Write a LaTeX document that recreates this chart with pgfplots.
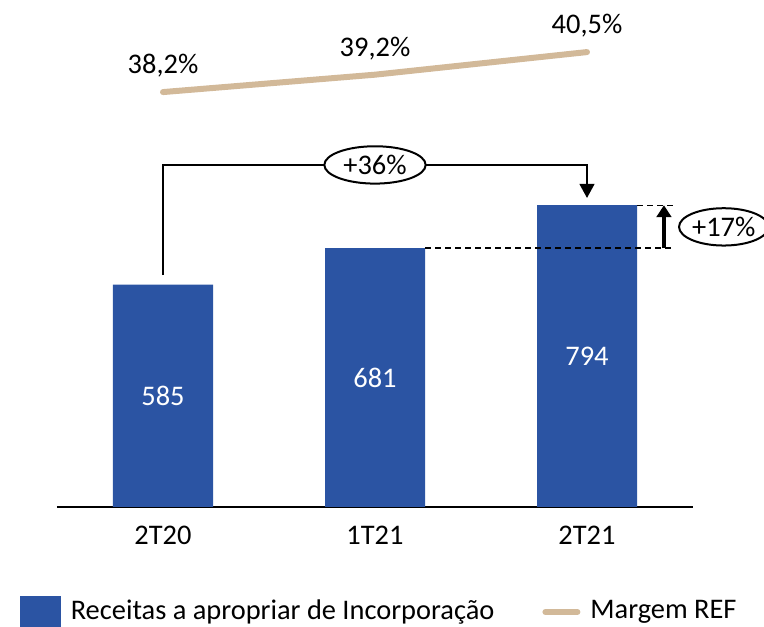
\documentclass[border=0pt]{standalone}
\usepackage{fontspec}
\setmainfont{Carlito}
\usepackage{pgfplots}
\pgfplotsset{compat=1.18}
\usetikzlibrary{arrows.meta,shapes.geometric}
\definecolor{barblue}{HTML}{2B54A3}
\definecolor{tanline}{HTML}{D2B999}

\begin{document}
\fontsize{21.3}{25}\selectfont
\begin{tikzpicture}
\useasboundingbox (-42.75pt,-90pt) rectangle (530.25pt,380.25pt);

% bars
\begin{axis}[
  at={(0pt,0pt)}, anchor=south west,
  scale only axis, width=477pt, height=357.75pt,
  xmin=-0.5, xmax=2.5, ymin=0, ymax=1255,
  axis x line=bottom, axis y line=none,
  x axis line style={-, line width=1.5pt},
  xtick={0,1,2}, xticklabels={2T20,1T21,2T21},
  major tick length=0pt,
  xticklabel style={anchor=center, inner sep=0pt, yshift=-21pt},
  ytick=\empty,
  clip=false,
  /pgf/number format/assume math mode=true,
]
  \addplot[ybar, bar width=75pt, fill=barblue, draw=none,
    visualization depends on={y \as \rawy},
    nodes near coords,
    every node near coord/.style={anchor=center, text=white, inner sep=0pt,
      shift={(axis direction cs:0,-\rawy/2)}}]
    coordinates {(0,585) (1,681) (2,794)};

  % +36% bracket
  \draw[-{Triangle[length=10.5pt,width=11pt]}, line width=1.5pt]
    (axis cs:0,610) |- (axis cs:2,900) -- (axis cs:2,813);
  \node[ellipse, draw, line width=1.5pt, fill=white, inner sep=0pt,
        minimum width=76pt, minimum height=28pt] at (axis cs:1,900) {+36\%};

  % +17% step
  \draw[dash pattern=on 4.5pt off 3pt, line width=1pt]
    (axis cs:1.236,681) -- (axis cs:2.406,681);
  \draw[dash pattern=on 4.5pt off 3pt, line width=1pt]
    (axis cs:2.236,794) -- (axis cs:2.406,794);
  \draw[-{Triangle[length=9pt,width=11pt]}, line width=3pt]
    (axis cs:2.363,681) -- (axis cs:2.363,794);
  \node[ellipse, draw, line width=1.5pt, fill=white, inner sep=0pt,
        minimum width=64pt, minimum height=28pt] at (axis cs:2.645,737) {+17\%};
\end{axis}

% margin line
\begin{axis}[
  at={(0pt,0pt)}, anchor=south west,
  scale only axis, width=477pt, height=357.75pt,
  xmin=-0.5, xmax=2.5, ymin=14.34, ymax=41.77,
  hide axis, clip=false,
  legend columns=2,
  legend style={draw=none, fill=none, inner sep=0pt,
    at={(-0.0582,-0.2201)}, anchor=west,
    nodes={inner sep=0pt},
    /tikz/every odd column/.append style={column sep=7.5pt},
    /tikz/every even column/.append style={column sep=36pt}},
]
  \addlegendimage{legend image code/.code={
    \fill[barblue] (0pt,-11.5pt) rectangle (30pt,11.5pt);}}
  \addlegendentry{Receitas a apropriar de Incorporação}
  \addplot[tanline, line width=4.5pt, line cap=round,
    nodes near coords, point meta=explicit symbolic,
    every node near coord/.style={anchor=center, yshift=19.5pt, text=black},
    legend image code/.code={
      \draw[tanline, line width=4.5pt, line cap=round] (2.25pt,0pt) -- (26.25pt,0pt);}]
    coordinates {(0,38.2)[38,2\%] (1,39.2)[39,2\%] (2,40.5)[40,5\%]};
  \addlegendentry{Margem REF}
\end{axis}
\end{tikzpicture}
\end{document}
